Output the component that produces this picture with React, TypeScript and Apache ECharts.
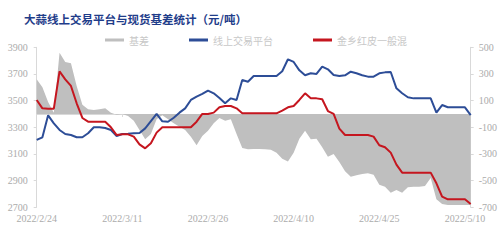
import React, { useEffect, useRef } from "react";
import * as echarts from "echarts";

const categories: string[] = [
  "2022/2/24","2022/2/25","2022/2/26","2022/2/27","2022/2/28",
  "2022/3/1","2022/3/2","2022/3/3","2022/3/4","2022/3/5","2022/3/6","2022/3/7","2022/3/8","2022/3/9","2022/3/10",
  "2022/3/11","2022/3/12","2022/3/13","2022/3/14","2022/3/15","2022/3/16","2022/3/17","2022/3/18","2022/3/19","2022/3/20",
  "2022/3/21","2022/3/22","2022/3/23","2022/3/24","2022/3/25","2022/3/26","2022/3/27","2022/3/28","2022/3/29","2022/3/30",
  "2022/3/31","2022/4/1","2022/4/2","2022/4/3","2022/4/4","2022/4/5","2022/4/6","2022/4/7","2022/4/8","2022/4/9",
  "2022/4/10","2022/4/11","2022/4/12","2022/4/13","2022/4/14","2022/4/15","2022/4/16","2022/4/17","2022/4/18","2022/4/19",
  "2022/4/20","2022/4/21","2022/4/22","2022/4/23","2022/4/24","2022/4/25","2022/4/26","2022/4/27","2022/4/28","2022/4/29",
  "2022/4/30","2022/5/1","2022/5/2","2022/5/3","2022/5/4","2022/5/5","2022/5/6","2022/5/7","2022/5/8","2022/5/9",
  "2022/5/10","2022/5/11",
];

const basis: number[] = [
  260, 200, 90, 10, 460, 390, 380, 210, 70, 35,
  30, 35, 42, 10, -5, 0, -15, -50, -120, -190,
  -150, -40, -10, -40, -70, -95, -120, -170, -235, -165,
  -125, -70, -30, -50, -40, -150, -255, -265, -262, -262,
  -265, -268, -290, -335, -357, -290, -185, -125, -190, -185,
  -250, -320, -300, -360, -430, -470, -460, -450, -445, -455,
  -530, -545, -590, -570, -590, -550, -545, -545, -540, -480,
  -640, -675, -682, -682, -682, -682, -682,
];

const onlinePlatform: number[] = [
  3205, 3225, 3390, 3330, 3280, 3250, 3242, 3225, 3225, 3255,
  3300, 3300, 3295, 3280, 3235, 3250, 3252, 3255, 3257, 3292,
  3347, 3400, 3345, 3342, 3372, 3410, 3442, 3505, 3530, 3550,
  3575, 3555, 3520, 3480, 3517, 3505, 3655, 3642, 3685, 3685,
  3685, 3685, 3685, 3720, 3810, 3790, 3727, 3690, 3705, 3700,
  3755, 3735, 3692, 3685, 3690, 3717, 3705, 3690, 3680, 3680,
  3705, 3712, 3715, 3592, 3555, 3525, 3517, 3517, 3517, 3517,
  3410, 3467, 3450, 3450, 3450, 3450, 3392,
];

const jinxiangRed: number[] = [
  3505, 3442, 3440, 3440, 3720, 3660, 3610, 3480, 3370, 3342,
  3342, 3342, 3342, 3300, 3242, 3247, 3247, 3230, 3172, 3142,
  3180, 3260, 3300, 3300, 3300, 3300, 3300, 3300, 3342, 3400,
  3400, 3410, 3450, 3460, 3460, 3442, 3405, 3405, 3405, 3405,
  3405, 3405, 3405, 3425, 3450, 3460, 3505, 3555, 3517, 3517,
  3510, 3422, 3400, 3290, 3242, 3242, 3242, 3242, 3242, 3230,
  3165, 3150, 3110, 3020, 2960, 2960, 2960, 2960, 2960, 2960,
  2880, 2780, 2760, 2760, 2760, 2760, 2725,
];

const leftTicks = { min: 2700, max: 3900, step: 200 };
const rightTicks = { min: -700, max: 500, step: 200 };

const seriesNames = ["基差", "线上交易平台", "金乡红皮一般混"];
const title = "大蒜线上交易平台与现货基差统计（元/吨）";

const GRAY = "#bfbfbf";
const BLUE = "#2d4d97";
const RED = "#c5161f";
const AXIS = "#d9d9d9";
const LABEL = "#ababab";
const SERIF = "'Liberation Serif', 'DejaVu Serif', serif";

export default function App() {
  const ref = useRef<HTMLDivElement>(null);
  useEffect(() => {
    if (!ref.current) return;
    const chart = echarts.init(ref.current, null, { renderer: "svg" });
    const plain = (v: number) => String(v);
    chart.setOption({
      animation: false,
      backgroundColor: "#ffffff",
      title: {
        text: title,
        left: 19,
        top: 8,
        textStyle: {
          fontFamily: "'Noto Sans CJK SC', sans-serif",
          fontWeight: "bold",
          fontSize: 11.5,
          color: "#1f3d8a",
        },
      },
      legend: {
        left: 100,
        top: 30,
        itemGap: 40,
        itemWidth: 19,
        itemHeight: 3,
        textStyle: {
          fontFamily: "'Noto Sans CJK SC', sans-serif",
          fontSize: 10,
          color: "#c8c8c8",
        },
        data: [
          { name: seriesNames[0], icon: "rect" },
          { name: seriesNames[1], icon: "rect" },
          { name: seriesNames[2], icon: "rect" },
        ],
      },
      grid: { left: 36.7, right: 29.3, top: 47.3, bottom: 32.7 },
      xAxis: {
        type: "category",
        data: categories,
        boundaryGap: false,
        axisLine: { lineStyle: { color: AXIS, width: 1 } },
        axisTick: {
          show: true,
          length: 3,
          lineStyle: { color: AXIS },
          interval: (i: number) => i % 15 === 0,
        },
        axisLabel: {
          interval: (i: number) => i % 15 === 0,
          fontFamily: SERIF,
          fontSize: 10,
          color: LABEL,
          margin: 6,
        },
        splitLine: { show: false },
      },
      yAxis: [
        {
          type: "value",
          min: leftTicks.min,
          max: leftTicks.max,
          interval: leftTicks.step,
          axisLine: { show: true, lineStyle: { color: AXIS } },
          axisTick: { show: true, length: 3, lineStyle: { color: AXIS } },
          axisLabel: { fontFamily: SERIF, fontSize: 10, color: LABEL, margin: 9, formatter: plain },
          splitLine: { show: false },
        },
        {
          type: "value",
          min: rightTicks.min,
          max: rightTicks.max,
          interval: rightTicks.step,
          position: "right",
          axisLine: { show: true, lineStyle: { color: AXIS } },
          axisTick: { show: true, length: 3, lineStyle: { color: AXIS } },
          axisLabel: { fontFamily: SERIF, fontSize: 10, color: LABEL, margin: 8, formatter: plain },
          splitLine: { show: false },
        },
      ],
      series: [
        {
          name: seriesNames[0],
          type: "line",
          yAxisIndex: 1,
          data: basis,
          symbol: "none",
          color: GRAY,
          lineStyle: { width: 0, color: GRAY },
          areaStyle: { color: GRAY, opacity: 1 },
          z: 1,
        },
        {
          name: seriesNames[1],
          type: "line",
          yAxisIndex: 0,
          data: onlinePlatform,
          symbol: "none",
          color: BLUE,
          lineStyle: { width: 2, color: BLUE },
          z: 2,
        },
        {
          name: seriesNames[2],
          type: "line",
          yAxisIndex: 0,
          data: jinxiangRed,
          symbol: "none",
          color: RED,
          lineStyle: { width: 2, color: RED },
          z: 3,
        },
      ],
    });
    return () => chart.dispose();
  }, []);
  return (
    <div
      ref={ref}
      style={{ position: "fixed", left: 0, top: 0, width: 500, height: 240, background: "#fff" }}
    />
  );
}
